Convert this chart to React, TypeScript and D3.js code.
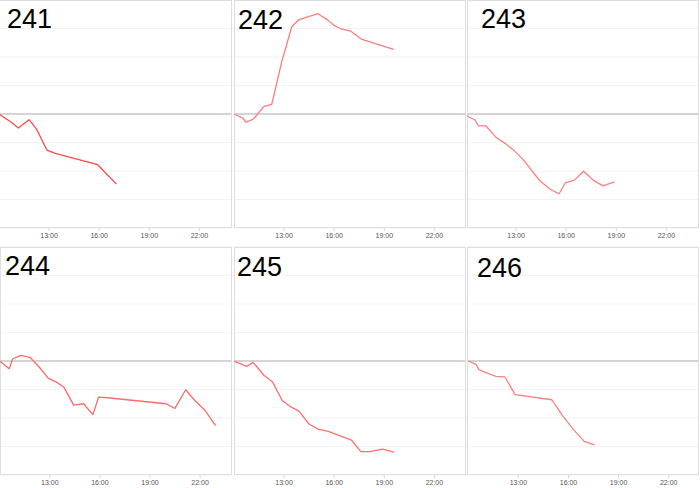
import React from "react";
import * as d3 from "d3";

// ---- Data (hours of day, % change) ----
const titles = ["241", "242", "243", "244", "245", "246"];

const t241 = [10.0, 10.76, 11.16, 11.8, 12.27, 12.87, 13.37, 15.91, 17.03];
const v241 = [0, -0.3, -0.49, -0.2, -0.55, -1.27, -1.38, -1.78, -2.46];

const t242 = [10.0, 10.52, 10.72, 11.16, 11.8, 12.26, 12.86, 13.46, 13.86, 15.02, 15.56, 15.96, 16.4, 16.96, 17.62, 19.56];
const v242 = [0, -0.14, -0.29, -0.18, 0.27, 0.34, 1.84, 3.06, 3.3, 3.52, 3.32, 3.12, 2.99, 2.92, 2.63, 2.27];

const t243 = [10.05, 10.54, 10.74, 11.2, 11.8, 12.34, 12.84, 13.44, 13.94, 14.44, 15.04, 15.58, 15.94, 16.5, 17.04, 17.64, 18.2, 18.9];
const v243 = [-0.06, -0.21, -0.42, -0.42, -0.82, -1.03, -1.26, -1.61, -1.99, -2.35, -2.64, -2.8, -2.42, -2.32, -2.01, -2.33, -2.52, -2.38];

const t244 = [10.0, 10.57, 10.77, 11.25, 11.81, 12.36, 12.9, 13.4, 13.83, 14.43, 15.02, 15.58, 15.92, 16.47, 19.95, 20.49, 21.14, 21.64, 22.29, 22.93];
const v244 = [0, -0.27, 0.07, 0.2, 0.13, -0.21, -0.6, -0.74, -0.91, -1.55, -1.5, -1.88, -1.27, -1.29, -1.5, -1.66, -1.01, -1.36, -1.73, -2.27];

const t245 = [10.0, 10.76, 11.15, 11.79, 12.31, 12.89, 13.35, 13.89, 14.49, 15.04, 15.64, 17.04, 17.6, 18.13, 18.89, 19.59];
const v245 = [0, -0.19, -0.05, -0.5, -0.74, -1.39, -1.59, -1.76, -2.21, -2.39, -2.47, -2.78, -3.18, -3.18, -3.09, -3.2];

const t246 = [10.0, 10.46, 10.66, 11.1, 11.66, 12.2, 12.8, 15.0, 15.6, 16.3, 16.94, 17.56];
const v246 = [0, -0.12, -0.31, -0.42, -0.54, -0.56, -1.18, -1.36, -1.88, -2.41, -2.82, -2.94];

const seriesTimes = [t241, t242, t243, t244, t245, t246];
const seriesValues = [v241, v242, v243, v244, v245, v246];

const xTicks = [13, 16, 19, 22];
const xTickLabels = ["13:00", "16:00", "19:00", "22:00"];
const yGrid = [-4, -3, -2, -1, 1, 2, 3, 4];
const xDomain = [10, 24];
const yDomain = [-4, 4];

// ---- Layout (positions/styles, separate from data) ----
const panelLayout = [
  { boxL: -1, boxR: 232, x0: -1, top: 0, bottom: 228, tx: 7, ty: 28, color: "#ff4848" },
  { boxL: 234, boxR: 466, x0: 234, top: 0, bottom: 228, tx: 238, ty: 29, color: "#ff7c7c" },
  { boxL: 467, boxR: 699, x0: 466, top: 0, bottom: 228, tx: 481, ty: 28, color: "#ff7f7f" },
  { boxL: 0, boxR: 232, x0: -0.3, top: 247, bottom: 475, tx: 5, ty: 275, color: "#ff6a6a" },
  { boxL: 234, boxR: 466, x0: 234, top: 247, bottom: 475, tx: 237, ty: 276, color: "#ff7070" },
  { boxL: 467, boxR: 699, x0: 468.3, top: 247, bottom: 475, tx: 477, ty: 277, color: "#ff7f7f" },
];
const PX_PER_HOUR = 16.7;

function Panel({ i }: { i: number }) {
  const L = panelLayout[i];
  const x = d3
    .scaleLinear()
    .domain(xDomain)
    .range([L.x0, L.x0 + PX_PER_HOUR * (xDomain[1] - xDomain[0])]);
  const y = d3.scaleLinear().domain(yDomain).range([L.bottom, L.top]);
  const times = seriesTimes[i];
  const vals = seriesValues[i];
  const pts: [number, number][] = times.map((t, k) => [t, vals[k]]);
  const line = d3
    .line<[number, number]>()
    .x((d) => x(d[0]))
    .y((d) => y(d[1]));
  const clipId = `clip${i}`;
  return (
    <g>
      <defs>
        <clipPath id={clipId}>
          <rect x={L.boxL} y={L.top} width={L.boxR - L.boxL} height={L.bottom - L.top} />
        </clipPath>
      </defs>
      <rect x={L.boxL} y={L.top} width={L.boxR - L.boxL} height={L.bottom - L.top} fill="#fff" />
      {yGrid.map((g) => (
        <line key={g} x1={L.boxL} x2={L.boxR} y1={y(g)} y2={y(g)} stroke="#f3f3f3" strokeWidth={1} />
      ))}
      <line x1={L.boxL} x2={L.boxR} y1={y(0)} y2={y(0)} stroke="#c6c6c6" strokeWidth={1.5} />
      <rect
        x={L.boxL + 0.5}
        y={L.top + 0.5}
        width={L.boxR - L.boxL - 1}
        height={L.bottom - L.top - 1}
        fill="none"
        stroke="#dedede"
        strokeWidth={1}
      />
      <path
        d={line(pts) || ""}
        fill="none"
        stroke={L.color}
        strokeWidth={1.3}
        strokeLinejoin="round"
        clipPath={`url(#${clipId})`}
      />
      {xTicks.map((t, k) => (
        <g key={t}>
          <line x1={x(t)} x2={x(t)} y1={L.bottom} y2={L.bottom + 3} stroke="#d8d8d8" strokeWidth={1} />
          <text
            x={x(t)}
            y={L.bottom + 9.5}
            textAnchor="middle"
            fontFamily="'Liberation Sans', Arial, sans-serif"
            fontSize={7}
            fill="#555"
          >
            {xTickLabels[k]}
          </text>
        </g>
      ))}
      <text x={L.tx} y={L.ty} fontFamily="'Liberation Sans', Arial, sans-serif" fontSize={27} fill="#000">
        {titles[i]}
      </text>
    </g>
  );
}

export default function App() {
  return (
    <svg
      width={700}
      height={488}
      style={{ position: "absolute", left: 0, top: 0, background: "#fff" }}
    >
      <rect x={0} y={0} width={700} height={488} fill="#fff" />
      {titles.map((_, i) => (
        <Panel key={i} i={i} />
      ))}
    </svg>
  );
}
